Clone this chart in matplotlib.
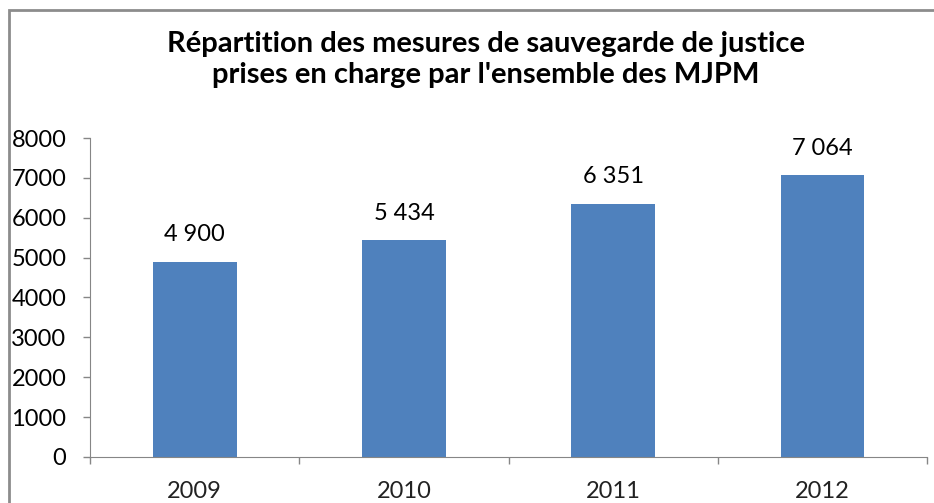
import matplotlib
matplotlib.use("Agg")
import matplotlib.pyplot as plt
from matplotlib.patches import Rectangle
import numpy as np

# data
years = ["2009", "2010", "2011", "2012"]
mesures = [4900, 5434, 6351, 7064]
value_labels = ["4\u202f900", "5\u202f434", "6\u202f351", "7\u202f064"]
title = "Répartition des mesures de sauvegarde de justice\nprises en charge par l'ensemble des MJPM"

plt.rcParams['font.family'] = ['Lato', 'DejaVu Sans']

fig = plt.figure(figsize=(9.34, 5.03), dpi=100)
ax = fig.add_axes([0.0964, 0.0915, 0.8961, 0.6341])

x = np.arange(len(years))
ax.bar(x, mesures, width=0.4, color='#4F81BD')

for xi, v, lab in zip(x, mesures, value_labels):
    ax.annotate(lab, (xi, v), xytext=(0, 19.5), textcoords='offset points',
                ha='center', va='center', fontsize=17, color='black')

ax.set_xlim(-0.5, len(years) - 0.5)
ax.set_ylim(0, 8000)
ax.set_yticks(np.arange(0, 8001, 1000))
ax.set_yticklabels([str(t) for t in range(0, 8001, 1000)], fontsize=17)
ax.set_xticks(x)
ax.set_xticklabels(years, fontsize=17, color='#222222')
ax.set_xticks(np.arange(-0.5, len(years)), minor=True)
ax.tick_params(axis='x', which='major', length=0, pad=17)
ax.tick_params(axis='x', which='minor', length=5, color='#868686', width=1)
ax.tick_params(axis='y', length=5, color='#868686', width=1, pad=12)

for s in ['top', 'right']:
    ax.spines[s].set_visible(False)
for s in ['left', 'bottom']:
    ax.spines[s].set_color('#868686')

fig.text(0.52, 0.882, title, ha='center', va='center', fontsize=21,
         fontweight='bold', linespacing=1.25)

# chart frame, runs off the bottom/right of the image
fig.patches.append(Rectangle((9 / 934, -0.1), 1.2, 1 - 10 / 503 + 0.1,
                             transform=fig.transFigure, fill=False,
                             edgecolor='#8c8c8c', linewidth=2))

fig.savefig("out.png", dpi=100)
